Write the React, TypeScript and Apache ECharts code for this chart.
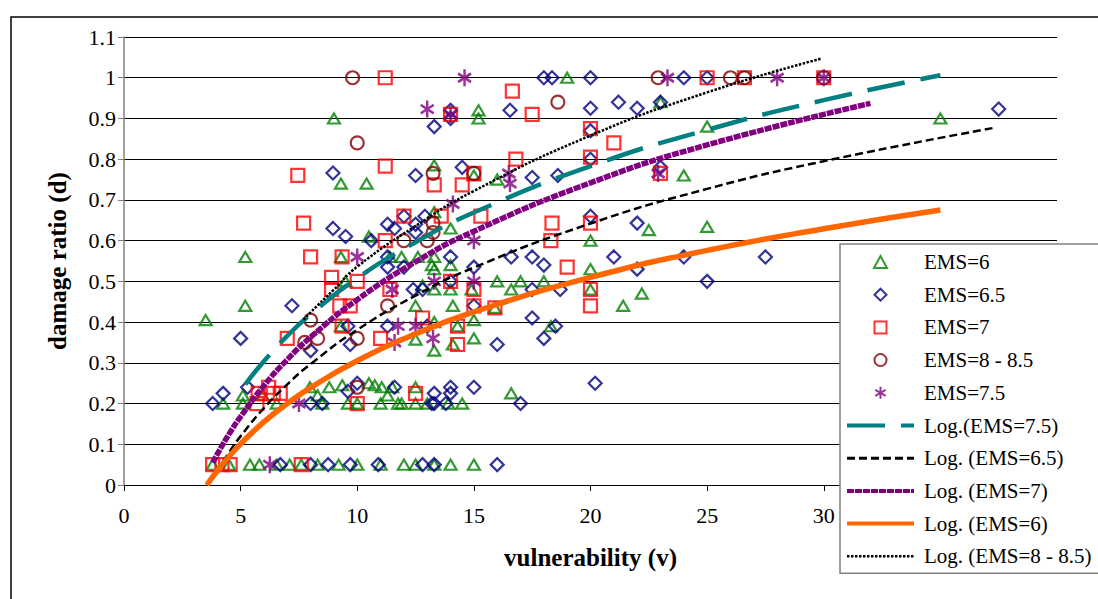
import React, { useEffect, useRef } from "react";
import * as echarts from "echarts";

// ---- scatter data: [vulnerability v, damage ratio d] ----
const ems6: number[][] = [
  [3.5, 0.405], [5.2, 0.56], [5.2, 0.44], [9.0, 0.9], [9.3, 0.74], [10.4, 0.74], [9.3, 0.56], [9.5, 0.5], [9.3, 0.39],
  [4.25, 0.2], [5.1, 0.2], [5.1, 0.22], [5.95, 0.22], [6.55, 0.2], [7.97, 0.24], [8.3, 0.22], [8.8, 0.24], [8.5, 0.2],
  [9.36, 0.245], [9.6, 0.2], [10.0, 0.2], [10.5, 0.25], [10.75, 0.245], [11.05, 0.24], [11.5, 0.24], [11.0, 0.2],
  [11.75, 0.2], [11.9, 0.2], [12.5, 0.2], [12.5, 0.24], [13.0, 0.2], [11.3, 0.22], [13.9, 0.2], [14.5, 0.2], [16.6, 0.225],
  [3.8, 0.05], [4.5, 0.05], [5.4, 0.05], [5.8, 0.05], [6.55, 0.05], [7.1, 0.05], [7.6, 0.05], [8.3, 0.05], [9.2, 0.05],
  [10.0, 0.05], [11.0, 0.05], [12.0, 0.05], [12.5, 0.05], [13.3, 0.05], [14.0, 0.05], [15.0, 0.05],
  [16.0, 0.5], [17.0, 0.5], [16.6, 0.48], [14.0, 0.48], [13.3, 0.48], [14.9, 0.48], [12.5, 0.44], [14.1, 0.44],
  [15.9, 0.435], [15.0, 0.405], [14.3, 0.39], [13.3, 0.4], [15.0, 0.36], [13.3, 0.33], [14.1, 0.345], [12.5, 0.357],
  [12.8, 0.49], [13.2, 0.54], [14.0, 0.54], [13.3, 0.56], [11.4, 0.56], [12.6, 0.56], [13.3, 0.53],
  [15.2, 0.92], [15.2, 0.9], [13.3, 0.785], [15.0, 0.76], [16.0, 0.75], [14.0, 0.63], [13.3, 0.67], [11.9, 0.56], [10.5, 0.61],
  [19.0, 1.0], [23.0, 0.94], [24.0, 0.76], [22.5, 0.626], [20.0, 0.6], [20.0, 0.53], [20.0, 0.48], [22.2, 0.47],
  [21.4, 0.44], [18.0, 0.5], [18.3, 0.39], [25.0, 0.88], [25.0, 0.634], [35.0, 0.9],
];

const ems65: number[][] = [
  [3.8, 0.2], [4.25, 0.225], [5.0, 0.36], [5.3, 0.24], [7.2, 0.44], [8.0, 0.33], [8.0, 0.2], [8.5, 0.2], [9.6, 0.23],
  [9.7, 0.345], [9.6, 0.39], [10.0, 0.25],
  [6.7, 0.05], [8.0, 0.05], [8.75, 0.05], [9.7, 0.05], [10.9, 0.05], [12.8, 0.05], [13.3, 0.05], [16.0, 0.05],
  [8.96, 0.766], [8.96, 0.63], [9.5, 0.61], [14.0, 0.92], [14.0, 0.9], [13.3, 0.88], [16.55, 0.92], [12.5, 0.76],
  [14.5, 0.78], [11.3, 0.64], [12.0, 0.66], [12.9, 0.66], [12.5, 0.64], [11.6, 0.63], [12.5, 0.62], [10.6, 0.6],
  [11.3, 0.56], [14.0, 0.56], [16.6, 0.56],
  [11.3, 0.535], [12.0, 0.535], [15.0, 0.535], [12.4, 0.48], [12.8, 0.48], [14.0, 0.5], [15.0, 0.44], [11.3, 0.39],
  [13.0, 0.39], [16.0, 0.345],
  [11.6, 0.24], [13.3, 0.225], [14.0, 0.24], [14.0, 0.225], [15.0, 0.24], [13.2, 0.2], [13.3, 0.2], [13.8, 0.2], [17.0, 0.2],
  [18.0, 1.0], [18.35, 1.0], [20.0, 1.0], [24.0, 1.0], [25.0, 1.0], [21.2, 0.94], [22.0, 0.925], [20.0, 0.925],
  [23.0, 0.94], [20.0, 0.87], [20.0, 0.8], [17.5, 0.755], [18.6, 0.76], [23.0, 0.78], [20.0, 0.66], [22.0, 0.643],
  [17.5, 0.56], [18.0, 0.54], [21.0, 0.56], [24.0, 0.56], [17.5, 0.48], [18.7, 0.48], [22.0, 0.53], [17.5, 0.41],
  [18.5, 0.39], [18.0, 0.36], [20.2, 0.25], [25.0, 0.5], [27.5, 0.56], [37.5, 0.923],
];

const ems7: number[][] = [
  [3.8, 0.05], [4.2, 0.05], [4.55, 0.05], [7.6, 0.05], [5.7, 0.2], [5.75, 0.225], [6.2, 0.24], [6.4, 0.225], [6.7, 0.225],
  [7.0, 0.36], [8.9, 0.51], [8.9, 0.48], [10.0, 0.5], [9.25, 0.44], [9.7, 0.44], [9.35, 0.39], [10.0, 0.2],
  [7.45, 0.76], [7.7, 0.643], [8.0, 0.56], [9.35, 0.56],
  [11.2, 1.0], [16.65, 0.967], [14.0, 0.91], [11.2, 0.783], [16.8, 0.8], [13.3, 0.737], [14.5, 0.737], [15.0, 0.765],
  [12.0, 0.66], [13.6, 0.66], [15.3, 0.66], [11.2, 0.6],
  [11.4, 0.48], [14.0, 0.5], [15.0, 0.48], [15.0, 0.44], [15.9, 0.435], [12.8, 0.41], [14.3, 0.39], [11.0, 0.36],
  [14.3, 0.345], [12.5, 0.225],
  [17.5, 0.91], [20.0, 0.875], [21.0, 0.84], [20.0, 0.805], [23.0, 0.765], [18.35, 0.643], [18.3, 0.6], [20.0, 0.643],
  [19.0, 0.535], [20.0, 0.48], [20.0, 0.44], [25.0, 1.0], [26.6, 1.0], [30.0, 1.0],
];

const ems8: number[][] = [
  [9.8, 1.0], [10.0, 0.84], [8.0, 0.405], [7.75, 0.35], [8.3, 0.36], [10.0, 0.36], [10.0, 0.24], [13.25, 0.765],
  [15.0, 0.765], [13.25, 0.643], [13.25, 0.62], [13.0, 0.6], [12.0, 0.6], [11.3, 0.44], [18.6, 0.94], [22.9, 1.0],
  [26.0, 1.0], [26.6, 1.0], [30.0, 1.0],
];

const ems75: number[][] = [
  [6.25, 0.05], [7.5, 0.2], [10.0, 0.56], [14.6, 1.0], [13.0, 0.923], [14.0, 0.91], [16.5, 0.765], [16.55, 0.74],
  [14.1, 0.69], [15.0, 0.6], [11.5, 0.48], [13.3, 0.5], [15.0, 0.5], [11.75, 0.39], [12.5, 0.39], [11.6, 0.35],
  [13.25, 0.36], [23.3, 1.0], [22.9, 0.765], [28.0, 1.0], [30.0, 1.0],
];

// ---- logarithmic trend lines ----
const trend75V = [5.2, 6, 7, 8, 10, 12.5, 15, 20, 25, 30, 35];
const trend75D = [0.247, 0.304, 0.366, 0.419, 0.508, 0.596, 0.669, 0.783, 0.872, 0.945, 1.006];
const trend65V = [4.25, 4.6, 5, 6, 7, 8, 10, 12.5, 15, 20, 25, 30, 37.4];
const trend65D = [0.058, 0.088, 0.12, 0.189, 0.247, 0.297, 0.381, 0.465, 0.534, 0.642, 0.727, 0.795, 0.878];
const trend7V = [3.8, 4.2, 4.6, 5, 6, 7, 8, 10, 12.5, 15, 20, 25, 32];
const trend7D = [0.055, 0.096, 0.134, 0.168, 0.244, 0.308, 0.363, 0.455, 0.548, 0.623, 0.742, 0.835, 0.937];
const trend6V = [3.55, 4, 4.5, 5, 6, 7, 8, 10, 12.5, 15, 20, 25, 30, 35];
const trend6D = [0.0, 0.035, 0.07, 0.101, 0.155, 0.2, 0.239, 0.305, 0.371, 0.425, 0.51, 0.576, 0.629, 0.675];
const trend8V = [7.7, 8, 9, 10, 12.5, 15, 20, 25, 29.9];
const trend8D = [0.406, 0.424, 0.48, 0.536, 0.636, 0.722, 0.858, 0.964, 1.047];

const legendNames = [
  "EMS=6", "EMS=6.5", "EMS=7", "EMS=8 - 8.5", "EMS=7.5",
  "Log.(EMS=7.5)", "Log. (EMS=6.5)", "Log. (EMS=7)", "Log. (EMS=6)", "Log. (EMS=8 - 8.5)",
];

const FONT = "'Liberation Serif', 'Times New Roman', serif";
const zip = (a: number[], b: number[]) => a.map((v, i) => [v, b[i]]);
const TRI = "path://M6,0L12,11L0,11Z";
const DIA = "path://M6,0L12,6L6,12L0,6Z";
const SQR = "path://M0,0L12,0L12,12L0,12Z";
const CIR = "path://M0,6A6,6,0,1,1,12,6A6,6,0,1,1,0,6Z";
const AST = "path://M0,-10L0,10M-8.66,-5L8.66,5M-8.66,5L8.66,-5";

export default function App() {
  const ref = useRef<HTMLDivElement>(null);
  useEffect(() => {
    const chart = echarts.init(ref.current!, null, { renderer: "svg" });
    const hollow = (c: string, w = 2) => ({ color: "rgba(0,0,0,0)", borderColor: c, borderWidth: w });
    const noDot = { opacity: 0, color: "rgba(0,0,0,0)", borderWidth: 0 };
    chart.setOption({
      animation: false,
      backgroundColor: "#fff",
      grid: { left: 124, top: 37, right: 41, bottom: 114, containLabel: false },
      graphic: [
        {
          type: "rect",
          z: -10,
          silent: true,
          shape: { x: 11, y: 17, width: 1200, height: 700 },
          style: { fill: "none", stroke: "#000", lineWidth: 1.5 },
        },
      ],
      xAxis: {
        type: "value",
        min: 0,
        max: 40,
        interval: 5,
        name: "vulnerability (v)",
        nameLocation: "middle",
        nameGap: 60,
        nameTextStyle: { fontFamily: FONT, fontSize: 25, fontWeight: "bold", color: "#000" },
        axisLine: { show: true, onZero: false, lineStyle: { color: "#000", width: 1 } },
        axisTick: { show: true, length: 6, lineStyle: { color: "#000" } },
        axisLabel: {
          fontFamily: FONT,
          fontSize: 22,
          color: "#000",
          margin: 19,
          formatter: (v: number) => (v > 30 ? "" : String(v)),
        },
        splitLine: { show: false },
      },
      yAxis: {
        type: "value",
        min: 0,
        max: 1.1,
        interval: 0.1,
        name: "damage ratio (d)",
        nameLocation: "middle",
        nameRotate: 90,
        nameGap: 54,
        nameTextStyle: { fontFamily: FONT, fontSize: 25, fontWeight: "bold", color: "#000" },
        axisLine: { show: true, lineStyle: { color: "#808080", width: 1.5 } },
        axisTick: { show: true, length: 6, lineStyle: { color: "#808080" } },
        axisLabel: {
          fontFamily: FONT,
          fontSize: 22,
          color: "#000",
          margin: 8,
          formatter: (v: number) => String(Math.round(v * 10) / 10),
        },
        splitLine: { show: true, lineStyle: { color: "#000", width: 1 } },
      },
      legend: {
        orient: "vertical",
        left: 840,
        top: 244,
        padding: [7, 80, 6, 5],
        itemGap: 10.7,
        itemWidth: 67,
        itemHeight: 12,
        symbolKeepAspect: true,
        backgroundColor: "#fff",
        borderColor: "#808080",
        borderWidth: 1.5,
        borderRadius: 0,
        textStyle: { fontFamily: FONT, fontSize: 21, color: "#000", lineHeight: 22, padding: [0, 0, 0, 5] },
        data: [
          { name: legendNames[0] },
          { name: legendNames[1] },
          { name: legendNames[2] },
          { name: legendNames[3] },
          { name: legendNames[4] },
          { name: legendNames[5], lineStyle: { width: 4 }, itemStyle: noDot },
          { name: legendNames[6], lineStyle: { width: 3 }, itemStyle: noDot },
          { name: legendNames[7], lineStyle: { width: 4 }, itemStyle: noDot },
          { name: legendNames[8], lineStyle: { width: 4 }, itemStyle: noDot },
          { name: legendNames[9], lineStyle: { width: 2.5 }, itemStyle: noDot },
        ],
      },
      series: [
        { name: legendNames[0], type: "scatter", data: ems6, symbol: TRI, symbolSize: [12, 11], symbolKeepAspect: true, itemStyle: hollow("#008000", 2.2) },
        { name: legendNames[1], type: "scatter", data: ems65, symbol: DIA, symbolSize: [13, 13], symbolKeepAspect: true, itemStyle: hollow("#000080", 2.2) },
        { name: legendNames[2], type: "scatter", data: ems7, symbol: SQR, symbolSize: [13, 13], symbolKeepAspect: true, itemStyle: hollow("#FF0000", 2.2) },
        { name: legendNames[3], type: "scatter", data: ems8, symbol: CIR, symbolSize: 13, symbolKeepAspect: true, itemStyle: hollow("#800000", 2.2) },
        { name: legendNames[4], type: "scatter", data: ems75, symbol: AST, symbolSize: [15, 17], symbolKeepAspect: true, itemStyle: hollow("#800080", 2.6) },
        {
          name: legendNames[5], type: "line", data: zip(trend75V, trend75D), symbol: "none", showSymbol: false, smooth: true,
          itemStyle: { color: "#008080" }, lineStyle: { color: "#008080", width: 4.5, type: [38, 16] },
        },
        {
          name: legendNames[6], type: "line", data: zip(trend65V, trend65D), symbol: "none", showSymbol: false, smooth: true,
          itemStyle: { color: "#000" }, lineStyle: { color: "#000", width: 2.5, type: [8, 4] },
        },
        {
          name: legendNames[7], type: "line", data: zip(trend7V, trend7D), symbol: "none", showSymbol: false, smooth: true,
          itemStyle: { color: "#800080" }, lineStyle: { color: "#800080", width: 5.5, type: [7, 1] },
        },
        {
          name: legendNames[8], type: "line", data: zip(trend6V, trend6D), symbol: "none", showSymbol: false, smooth: true,
          itemStyle: { color: "#FF6600" }, lineStyle: { color: "#FF6600", width: 5.5 },
        },
        {
          name: legendNames[9], type: "line", data: zip(trend8V, trend8D), symbol: "none", showSymbol: false, smooth: true,
          itemStyle: { color: "#000" }, lineStyle: { color: "#000", width: 2.5, type: [2.5, 1.5] },
        },
      ],
    });
    return () => chart.dispose();
  }, []);
  return (
    <div
      ref={ref}
      style={{ position: "absolute", left: 0, top: 0, width: 1098, height: 599, background: "#fff" }}
    />
  );
}
